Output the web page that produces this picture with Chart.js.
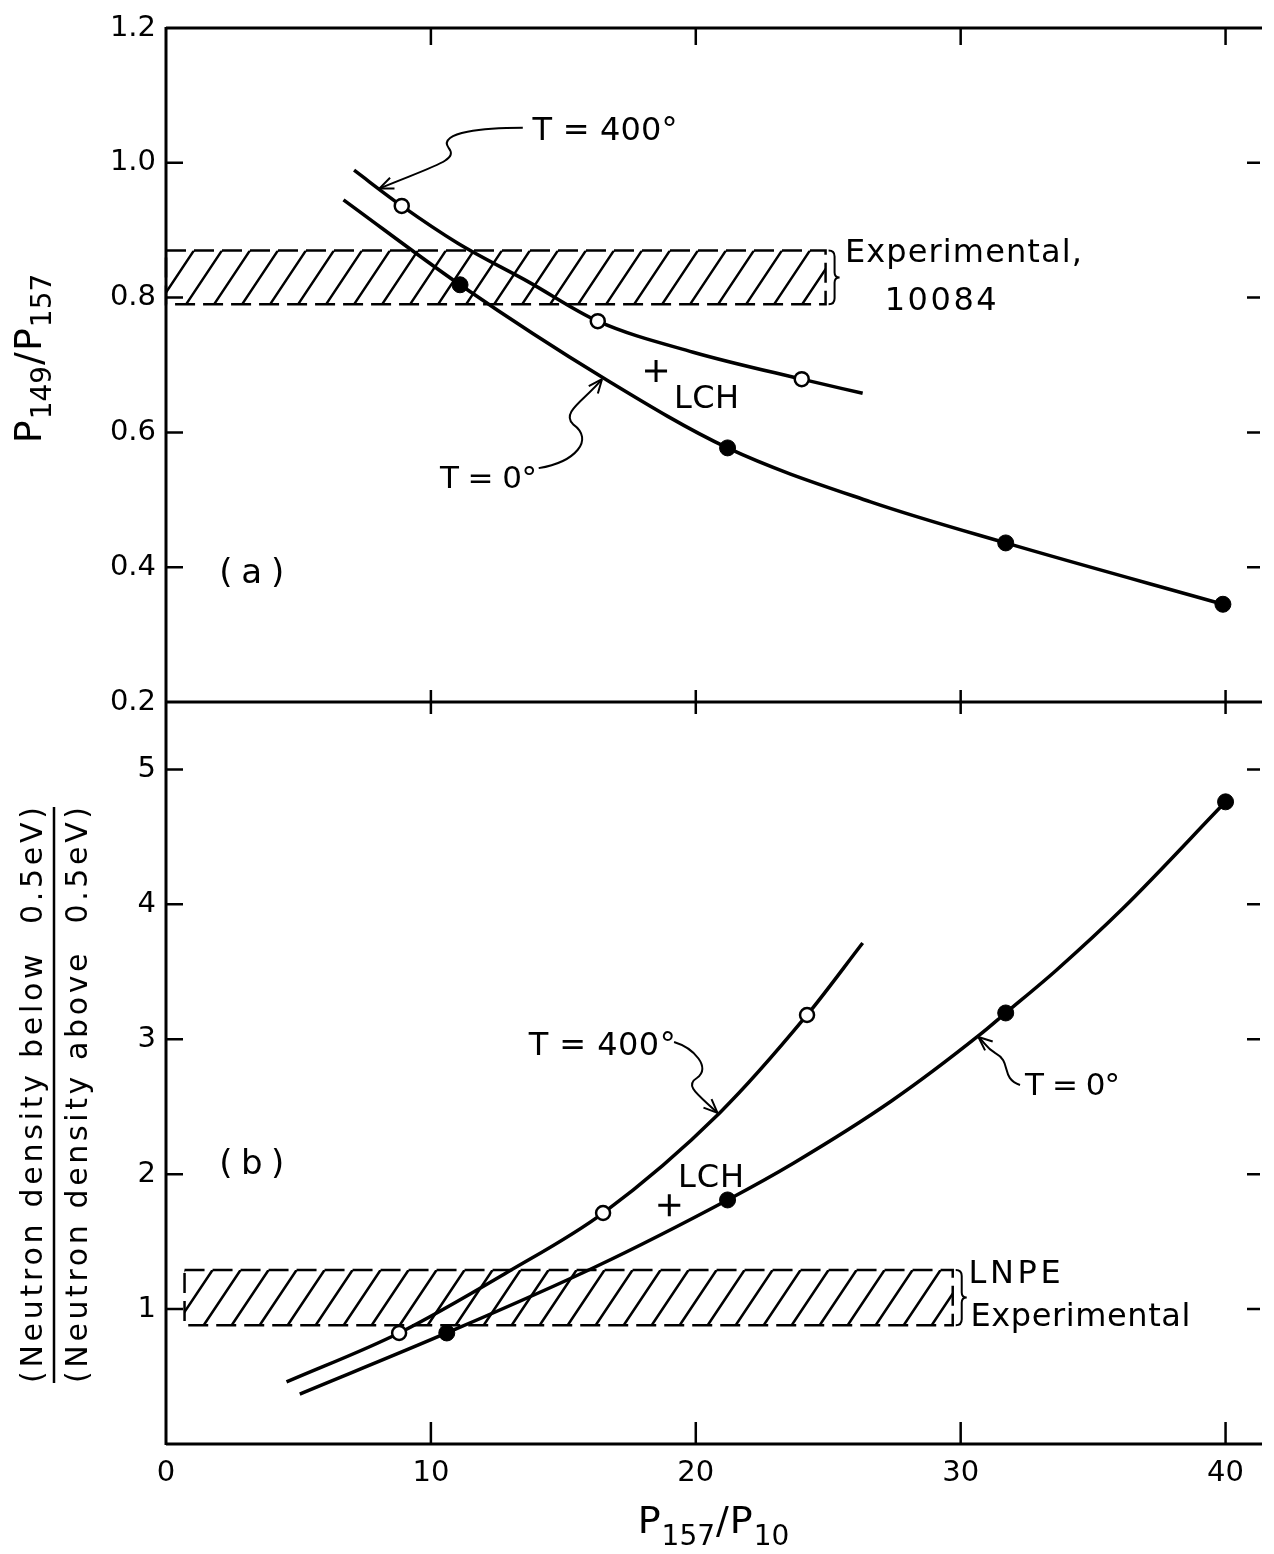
<!DOCTYPE html>
<html>
<head>
<meta charset="utf-8">
<script src="https://cdn.jsdelivr.net/npm/chart.js@4.4.1/dist/chart.umd.min.js"></script>
<style>
  html, body { margin: 0; padding: 0; background: #fff; }
</style>
</head>
<body>
<canvas id="chart" width="1274" height="1554"></canvas>
<script>
// ---- data ----
const xTicks = [0, 10, 20, 30, 40];
const topTicks = [0.2, 0.4, 0.6, 0.8, 1.0, 1.2];
const botTicks = [1, 2, 3, 4, 5];

// (a) P149/P157 vs P157/P10
const topHotCurveX = [7.1, 8.9, 11.0, 13.7, 16.3, 19.9, 24.0, 26.3];
const topHotCurveY = [0.989, 0.936, 0.881, 0.823, 0.765, 0.719, 0.679, 0.658];
const topColdCurveX = [6.7, 11.1, 16.5, 21.2, 26.6, 31.7, 39.9];
const topColdCurveY = [0.945, 0.819, 0.681, 0.577, 0.497, 0.436, 0.345];
const topHotPtsX = [8.9, 16.3, 24.0];
const topHotPtsY = [0.936, 0.765, 0.679];
const topColdPtsX = [11.1, 21.2, 31.7, 39.9];
const topColdPtsY = [0.819, 0.577, 0.436, 0.345];
const topLchX = [18.5];
const topLchY = [0.691];
const topBandX = [0, 24.9];
const topBandY = [0.79, 0.87];

// (b) neutron density ratio vs P157/P10
const botHotCurveX = [4.55, 8.8, 12.9, 16.5, 20.9, 24.2, 26.3];
const botHotCurveY = [0.46, 0.823, 1.275, 1.712, 2.454, 3.18, 3.714];
const botColdCurveX = [5.05, 10.6, 16.2, 21.2, 23.7, 27.4, 30.7, 31.7, 33.6, 36.1, 40.0];
const botColdCurveY = [0.37, 0.823, 1.312, 1.809, 2.083, 2.544, 3.03, 3.195, 3.51, 3.965, 4.76];
const botHotPtsX = [8.8, 16.5, 24.2];
const botHotPtsY = [0.823, 1.712, 3.18];
const botColdPtsX = [10.6, 21.2, 31.7, 40.0];
const botColdPtsY = [0.823, 1.809, 3.195, 4.76];
const botLchX = [19.0];
const botLchY = [1.77];
const botBandX = [0.7, 29.7];
const botBandY = [0.88, 1.29];

const FONT = '"DejaVu Sans", sans-serif';
const zip = (xs, ys) => xs.map((x, i) => ({ x, y: ys[i] }));

// annotation text, placed in data units of the panel's axis
const notes = [
  { text: 'T = 400°', x: 13.84, y: 1.034, axis: 'yT', size: 32, width: 145 },
  { text: 'Experimental,', x: 25.63, y: 0.853, axis: 'yT', size: 32, width: 237 },
  { text: '10084', x: 27.13, y: 0.782, axis: 'yT', size: 32, width: 112 },
  { text: 'LCH', x: 19.18, y: 0.636, axis: 'yT', size: 32, width: 65 },
  { text: 'T = 0°', x: 10.34, y: 0.518, axis: 'yT', size: 31, width: 97 },
  { text: '(a)', x: 2.01, y: 0.377, axis: 'yT', size: 34, width: 65 },
  { text: 'T = 400°', x: 13.69, y: 2.884, axis: 'yB', size: 32, width: 147 },
  { text: 'LCH', x: 19.33, y: 1.905, axis: 'yB', size: 32, width: 66 },
  { text: 'T = 0°', x: 32.43, y: 2.587, axis: 'yB', size: 31, width: 95 },
  { text: 'LNPE', x: 30.3, y: 1.193, axis: 'yB', size: 32, width: 92 },
  { text: 'Experimental', x: 30.37, y: 0.875, axis: 'yB', size: 32, width: 220 },
  { text: '(b)', x: 2.01, y: 2.0, axis: 'yB', size: 34, width: 65 }
];

// wavy pointer arrows: start, c1, c2, mid, c3, c4, tip (data units)
const pointers = [
  { axis: 'yT', pts: [[13.47, 1.052], [12.09, 1.052], [10.22, 1.046], [10.67, 1.022], [11.04, 1.004], [10.22, 0.997], [8.06, 0.962]] },
  { axis: 'yT', pts: [[14.07, 0.547], [15.45, 0.556], [16.19, 0.589], [15.37, 0.612], [14.89, 0.630], [15.82, 0.648], [16.46, 0.679]] },
  { axis: 'yB', pts: [[19.18, 2.98], [19.93, 2.935], [20.6, 2.787], [20.04, 2.713], [19.55, 2.654], [20.11, 2.587], [20.82, 2.454]] },
  { axis: 'yB', pts: [[32.24, 2.661], [31.49, 2.713], [31.94, 2.832], [31.31, 2.898], [30.93, 2.943], [30.93, 2.973], [30.67, 3.017]] }
];

function fitText(ctx, str, x, y, size, width) {
  ctx.font = `${size}px ${FONT}`;
  ctx.letterSpacing = '0px';
  const w = ctx.measureText(str).width;
  const sp = str.length > 1 ? (width - w) / (str.length - 1) : 0;
  ctx.letterSpacing = sp + 'px';
  ctx.textAlign = 'left';
  ctx.textBaseline = 'alphabetic';
  ctx.fillText(str, x, y);
  ctx.letterSpacing = '0px';
}

// text with subscripts, centred on x
function subText(ctx, parts, cx, y) {
  let total = 0;
  parts.forEach(p => { ctx.font = `${p.size}px ${FONT}`; p.w = ctx.measureText(p.t).width; total += p.w + 1; });
  let x = cx - total / 2;
  ctx.textAlign = 'left';
  ctx.textBaseline = 'alphabetic';
  parts.forEach(p => { ctx.font = `${p.size}px ${FONT}`; ctx.fillText(p.t, x, y + p.dy); x += p.w + 1; });
}

const figurePlugin = {
  id: 'figure',
  beforeDatasetsDraw(chart) {
    const ctx = chart.ctx, sx = chart.scales.x;
    [[topBandX, topBandY, 'yT'], [botBandX, botBandY, 'yB']].forEach(([bx, by, axis]) => {
      const ys = chart.scales[axis];
      const x0 = sx.getPixelForValue(bx[0]), x1 = sx.getPixelForValue(bx[1]);
      const yTop = ys.getPixelForValue(by[1]), yBot = ys.getPixelForValue(by[0]);
      const h = yBot - yTop, run = h / 1.5;
      ctx.save();
      ctx.beginPath();
      ctx.rect(x0, yTop, x1 - x0, h);
      ctx.clip();
      ctx.strokeStyle = '#000';
      ctx.lineWidth = 2.5;
      ctx.beginPath();
      for (let k = x0 - run; k < x1 + run; k += 28) {
        ctx.moveTo(k, yBot);
        ctx.lineTo(k + run, yTop);
      }
      ctx.stroke();
      ctx.restore();
      ctx.save();
      ctx.strokeStyle = '#000';
      ctx.lineWidth = 2.5;
      ctx.setLineDash([20, 8]);
      ctx.strokeRect(x0, yTop, x1 - x0, h);
      ctx.setLineDash([]);
      // brace
      const b = x1 + 3, m = (yTop + yBot) / 2;
      ctx.lineWidth = 2;
      ctx.beginPath();
      ctx.moveTo(b, yTop);
      ctx.quadraticCurveTo(b + 6, yTop, b + 6, yTop + 6);
      ctx.lineTo(b + 6, m - 5);
      ctx.quadraticCurveTo(b + 6, m, b + 11, m);
      ctx.quadraticCurveTo(b + 6, m, b + 6, m + 5);
      ctx.lineTo(b + 6, yBot - 6);
      ctx.quadraticCurveTo(b + 6, yBot, b, yBot);
      ctx.stroke();
      ctx.restore();
    });
  },
  afterDraw(chart) {
    const ctx = chart.ctx, sx = chart.scales.x, yT = chart.scales.yT, yB = chart.scales.yB;
    const a = chart.chartArea;
    const mid = yT.bottom;
    ctx.save();
    ctx.strokeStyle = '#000';
    ctx.fillStyle = '#000';
    ctx.lineWidth = 3;
    ctx.lineCap = 'butt';
    // frame lines
    ctx.beginPath();
    ctx.moveTo(a.left, a.top); ctx.lineTo(a.right + 2, a.top);
    ctx.moveTo(a.left, mid); ctx.lineTo(a.right + 2, mid);
    ctx.moveTo(a.left, a.bottom); ctx.lineTo(a.right + 2, a.bottom);
    ctx.moveTo(a.left, a.top - 1); ctx.lineTo(a.left, a.bottom + 1);
    ctx.stroke();
    // x tick marks
    ctx.lineWidth = 2.5;
    ctx.beginPath();
    xTicks.slice(1).forEach(v => {
      const x = sx.getPixelForValue(v);
      ctx.moveTo(x, a.top); ctx.lineTo(x, a.top + 17);
      ctx.moveTo(x, mid - 12); ctx.lineTo(x, mid + 12);
      ctx.moveTo(x, a.bottom); ctx.lineTo(x, a.bottom - 22);
    });
    // y tick marks, left and right
    topTicks.slice(1, -1).forEach(v => {
      const y = yT.getPixelForValue(v);
      ctx.moveTo(a.left, y); ctx.lineTo(a.left + 17, y);
      ctx.moveTo(a.right, y); ctx.lineTo(a.right - 13, y);
    });
    botTicks.forEach(v => {
      const y = yB.getPixelForValue(v);
      ctx.moveTo(a.left, y); ctx.lineTo(a.left + 17, y);
      ctx.moveTo(a.right, y); ctx.lineTo(a.right - 13, y);
    });
    ctx.stroke();

    // annotation text
    notes.forEach(n => {
      fitText(ctx, n.text, sx.getPixelForValue(n.x), chart.scales[n.axis].getPixelForValue(n.y), n.size, n.width);
    });

    // wavy pointers
    ctx.lineWidth = 2;
    pointers.forEach(p => {
      const ys = chart.scales[p.axis];
      const q = p.pts.map(([x, y]) => [sx.getPixelForValue(x), ys.getPixelForValue(y)]);
      ctx.beginPath();
      ctx.moveTo(q[0][0], q[0][1]);
      ctx.bezierCurveTo(q[1][0], q[1][1], q[2][0], q[2][1], q[3][0], q[3][1]);
      ctx.bezierCurveTo(q[4][0], q[4][1], q[5][0], q[5][1], q[6][0], q[6][1]);
      ctx.stroke();
      const ang = Math.atan2(q[6][1] - q[5][1], q[6][0] - q[5][0]);
      ctx.beginPath();
      [0.4, -0.4].forEach(d => {
        ctx.moveTo(q[6][0], q[6][1]);
        ctx.lineTo(q[6][0] - 15 * Math.cos(ang + d), q[6][1] - 15 * Math.sin(ang + d));
      });
      ctx.stroke();
    });

    // axis titles
    ctx.save();
    ctx.translate(41, 358);
    ctx.rotate(-Math.PI / 2);
    subText(ctx, [
      { t: 'P', size: 38, dy: 0 }, { t: '149', size: 28, dy: 10 },
      { t: '/', size: 38, dy: 0 },
      { t: 'P', size: 38, dy: 0 }, { t: '157', size: 28, dy: 10 }
    ], 0, 0);
    ctx.restore();

    ctx.save();
    ctx.translate(0, 1095);
    ctx.rotate(-Math.PI / 2);
    fitText(ctx, '(Neutron density below  0.5eV)', -288, 42, 30, 576);
    fitText(ctx, '(Neutron density above  0.5eV)', -288, 87, 30, 576);
    ctx.lineWidth = 2.5;
    ctx.beginPath();
    ctx.moveTo(-288, 54); ctx.lineTo(288, 54);
    ctx.stroke();
    ctx.restore();

    subText(ctx, [
      { t: 'P', size: 38, dy: 0 }, { t: '157', size: 28, dy: 12 },
      { t: '/', size: 38, dy: 0 },
      { t: 'P', size: 38, dy: 0 }, { t: '10', size: 28, dy: 12 }
    ], 714, 1533);
    ctx.restore();
  }
};

const tickFont = { family: FONT, size: 29 };

const config = {
  type: 'scatter',
  data: {
    datasets: [
      { data: zip(topHotPtsX, topHotPtsY), yAxisID: 'yT', pointRadius: 7, pointBackgroundColor: '#fff', pointBorderColor: '#000', pointBorderWidth: 2.5, showLine: false },
      { data: zip(topColdPtsX, topColdPtsY), yAxisID: 'yT', pointRadius: 8, pointBackgroundColor: '#000', pointBorderColor: '#000', pointBorderWidth: 1, showLine: false },
      { data: zip(topLchX, topLchY), yAxisID: 'yT', pointStyle: 'cross', pointRadius: 11, pointBorderColor: '#000', pointBorderWidth: 3, showLine: false },
      { data: zip(botHotPtsX, botHotPtsY), yAxisID: 'yB', pointRadius: 7, pointBackgroundColor: '#fff', pointBorderColor: '#000', pointBorderWidth: 2.5, showLine: false },
      { data: zip(botColdPtsX, botColdPtsY), yAxisID: 'yB', pointRadius: 8, pointBackgroundColor: '#000', pointBorderColor: '#000', pointBorderWidth: 1, showLine: false },
      { data: zip(botLchX, botLchY), yAxisID: 'yB', pointStyle: 'cross', pointRadius: 11, pointBorderColor: '#000', pointBorderWidth: 3, showLine: false },
      { data: zip(topHotCurveX, topHotCurveY), yAxisID: 'yT', showLine: true, pointRadius: 0, borderColor: '#000', borderWidth: 3.5, cubicInterpolationMode: 'monotone' },
      { data: zip(topColdCurveX, topColdCurveY), yAxisID: 'yT', showLine: true, pointRadius: 0, borderColor: '#000', borderWidth: 3.5, cubicInterpolationMode: 'monotone' },
      { data: zip(botHotCurveX, botHotCurveY), yAxisID: 'yB', showLine: true, pointRadius: 0, borderColor: '#000', borderWidth: 3.5, cubicInterpolationMode: 'monotone' },
      { data: zip(botColdCurveX, botColdCurveY), yAxisID: 'yB', showLine: true, pointRadius: 0, borderColor: '#000', borderWidth: 3.5, cubicInterpolationMode: 'monotone' }
    ]
  },
  options: {
    responsive: false,
    animation: false,
    devicePixelRatio: 1,
    layout: { padding: { top: 28, right: 1, left: 0, bottom: 0 } },
    plugins: { legend: { display: false }, tooltip: { enabled: false } },
    scales: {
      x: {
        type: 'linear', position: 'bottom', min: 0, max: 41.3,
        grid: { display: false, drawTicks: false }, border: { display: false },
        afterBuildTicks: s => { s.ticks = xTicks.map(v => ({ value: v })); },
        afterFit: s => { s.height = 110; },
        ticks: { font: tickFont, color: '#000', padding: 12, maxRotation: 0, autoSkip: false, callback: v => String(v) }
      },
      yB: {
        type: 'linear', position: 'left', min: 0, max: 5.5, stack: 'panels', stackWeight: 742,
        grid: { display: false, drawTicks: false }, border: { display: false },
        afterBuildTicks: s => { s.ticks = botTicks.map(v => ({ value: v })); },
        afterFit: s => { s.width = 166; },
        ticks: { font: tickFont, color: '#000', padding: 10, autoSkip: false, callback: v => String(v) }
      },
      yT: {
        type: 'linear', position: 'left', min: 0.2, max: 1.2, stack: 'panels', stackWeight: 674,
        grid: { display: false, drawTicks: false }, border: { display: false },
        afterBuildTicks: s => { s.ticks = topTicks.map(v => ({ value: v })); },
        afterFit: s => { s.width = 166; },
        ticks: { font: tickFont, color: '#000', padding: 10, autoSkip: false, callback: v => v.toFixed(1) }
      }
    }
  },
  plugins: [figurePlugin]
};

new Chart(document.getElementById('chart'), config);
</script>
</body>
</html>
